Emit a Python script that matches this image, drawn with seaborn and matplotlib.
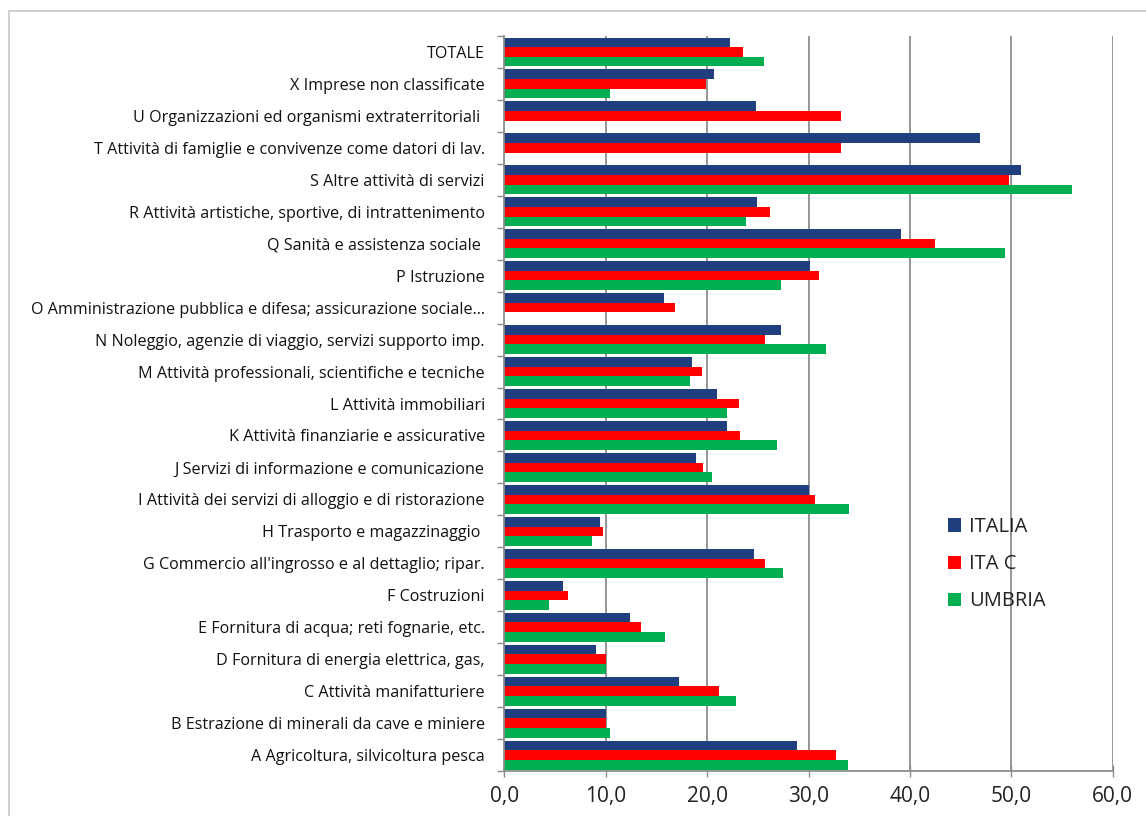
import matplotlib
matplotlib.use("Agg")
import matplotlib.pyplot as plt
import seaborn as sns
import pandas as pd
from matplotlib.lines import Line2D
from matplotlib.ticker import FixedLocator, FuncFormatter

# categorie (dall'alto verso il basso)
settori = [
    "TOTALE",
    "X Imprese non classificate",
    "U Organizzazioni ed organismi extraterritoriali ",
    "T Attività di famiglie e convivenze come datori di lav.",
    "S Altre attività di servizi",
    "R Attività artistiche, sportive, di intrattenimento",
    "Q Sanità e assistenza sociale ",
    "P Istruzione",
    "O Amministrazione pubblica e difesa; assicurazione sociale...",
    "N Noleggio, agenzie di viaggio, servizi supporto imp.",
    "M Attività professionali, scientifiche e tecniche",
    "L Attività immobiliari",
    "K Attività finanziarie e assicurative",
    "J Servizi di informazione e comunicazione",
    "I Attività dei servizi di alloggio e di ristorazione",
    "H Trasporto e magazzinaggio ",
    "G Commercio all'ingrosso e al dettaglio; ripar.",
    "F Costruzioni",
    "E Fornitura di acqua; reti fognarie, etc.",
    "D Fornitura di energia elettrica, gas,",
    "C Attività manifatturiere",
    "B Estrazione di minerali da cave e miniere",
    "A Agricoltura, silvicoltura pesca",
]

italia = [22.3, 20.7, 24.8, 46.9, 51.0, 24.9, 39.1, 30.1, 15.8, 27.3, 18.5, 21.0,
          22.0, 18.9, 30.0, 9.4, 24.6, 5.8, 12.4, 9.0, 17.2, 10.0, 28.9]
ita_c = [23.5, 19.9, 33.2, 33.2, 49.8, 26.2, 42.5, 31.0, 16.8, 25.7, 19.5, 23.1,
         23.2, 19.6, 30.6, 9.7, 25.7, 6.3, 13.5, 10.0, 21.2, 10.0, 32.7]
umbria = [25.6, 10.4, 0.0, 0.0, 56.0, 23.8, 49.4, 27.3, 0.0, 31.7, 18.3, 22.0,
          26.9, 20.5, 34.0, 8.7, 27.5, 4.4, 15.9, 10.0, 22.9, 10.4, 33.9]

serie = ["ITALIA", "ITA C", "UMBRIA"]
colori = {"ITALIA": "#1F3F7F", "ITA C": "#FF0000", "UMBRIA": "#00B050"}
x_ticks = [0, 10, 20, 30, 40, 50, 60]

df = pd.concat([
    pd.DataFrame({"settore": settori, "valore": v, "serie": s})
    for s, v in zip(serie, [italia, ita_c, umbria])
])

sns.set_theme(style="white")
plt.rcParams["font.family"] = ["Open Sans", "DejaVu Sans"]

fig = plt.figure(figsize=(11.46, 8.16), dpi=100)
ax = fig.add_axes([0.44, 0.055, 0.531, 0.901])

sns.barplot(data=df, y="settore", x="valore", hue="serie", hue_order=serie,
            order=settori, palette=colori, orient="y", width=0.9,
            saturation=1, linewidth=0, ax=ax, legend=True)

ax.set_xlim(0, 60)
ax.set_ylim(len(settori) - 0.5, -0.5)
ax.set_xlabel("")
ax.set_ylabel("")

# griglia verticale
for x in x_ticks[1:]:
    ax.axvline(x, color="#8c8c8c", lw=1.3, zorder=0)

ax.set_xticks(x_ticks)
ax.xaxis.set_major_formatter(FuncFormatter(lambda v, p: f"{v:.1f}".replace(".", ",")))
ax.tick_params(axis="x", direction="inout", length=9, width=1, color="#8c8c8c",
               labelsize=15, labelcolor="#222222", pad=6, bottom=True)

ax.tick_params(axis="y", which="major", length=0, labelsize=11.6,
               labelcolor="#111111", pad=14)
ax.yaxis.set_minor_locator(FixedLocator([i + 0.5 for i in range(-1, len(settori))]))
ax.tick_params(axis="y", which="minor", left=True, length=5, width=1, color="#8c8c8c")

for side in ["top", "right"]:
    ax.spines[side].set_visible(False)
for side in ["left", "bottom"]:
    ax.spines[side].set_color("#8c8c8c")
    ax.spines[side].set_linewidth(1.3)

leg = ax.legend(loc="upper left", bbox_to_anchor=(0.7, 0.37), frameon=False,
                fontsize=14.5, handlelength=0.65, handleheight=0.65,
                handletextpad=0.4, labelspacing=0.85)
for t in leg.get_texts():
    t.set_color("#222222")

# cornice esterna (solo bordo sinistro e superiore visibili)
fig.add_artist(Line2D([0.008, 1.0], [0.987, 0.987], color="#c8c8c8", lw=1.2))
fig.add_artist(Line2D([0.008, 0.008], [0.0, 0.987], color="#c8c8c8", lw=1.2))

fig.savefig("out.png", dpi=100, facecolor="white")
